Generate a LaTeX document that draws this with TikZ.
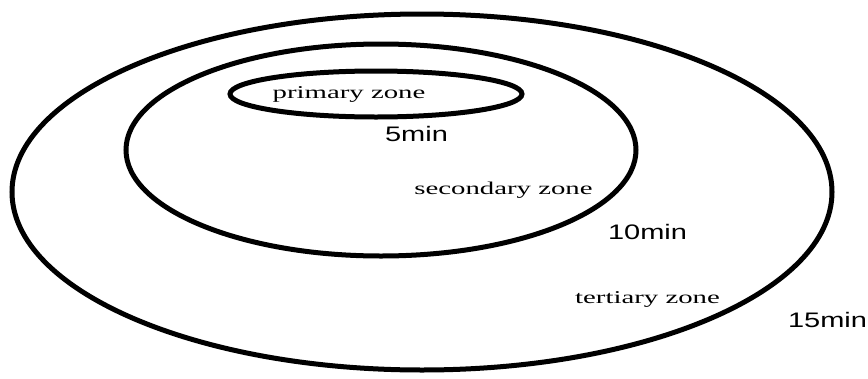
\documentclass[tikz,border=0pt]{standalone}
\usepackage{fontspec}
\setmainfont{Liberation Serif}
\newfontfamily\labelsans{Liberation Sans}
\tikzset{
  zone/.style={line width=5pt, draw=black},
  zonetext/.style={inner sep=0pt, font=\fontsize{18}{21}\selectfont},
  timetext/.style={inner sep=0pt, font=\labelsans\fontsize{21}{24}\selectfont}
}
\newcommand{\widezone}[1]{\scalebox{1.6}[1]{#1}}
\newcommand{\widetime}[1]{\scalebox{1.38}[1]{#1}}
\begin{document}
\begin{tikzpicture}[x=1pt,y=-1pt]
\useasboundingbox (0,0) rectangle (868,378);
% ellipses
\draw[zone] (422,192) ellipse [x radius=410pt, y radius=178pt];
\draw[zone] (381,150) ellipse [x radius=255pt, y radius=106pt];
\draw[zone] (376,94) ellipse [x radius=146pt, y radius=23pt];
% labels
\node[zonetext] (primary) at (349,94.5) {\widezone{primary zone}};
\node[timetext] (t5) at (416.5,133.5) {\widetime{5min}};
\node[zonetext] (secondary) at (503.5,190) {\widezone{secondary zone}};
\node[timetext] (t10) at (647.5,232) {\widetime{10min}};
\node[zonetext] (tertiary) at (647.5,299) {\widezone{tertiary zone}};
\node[timetext] (t15) at (827.5,319.5) {\widetime{15min}};
\end{tikzpicture}
\end{document}
